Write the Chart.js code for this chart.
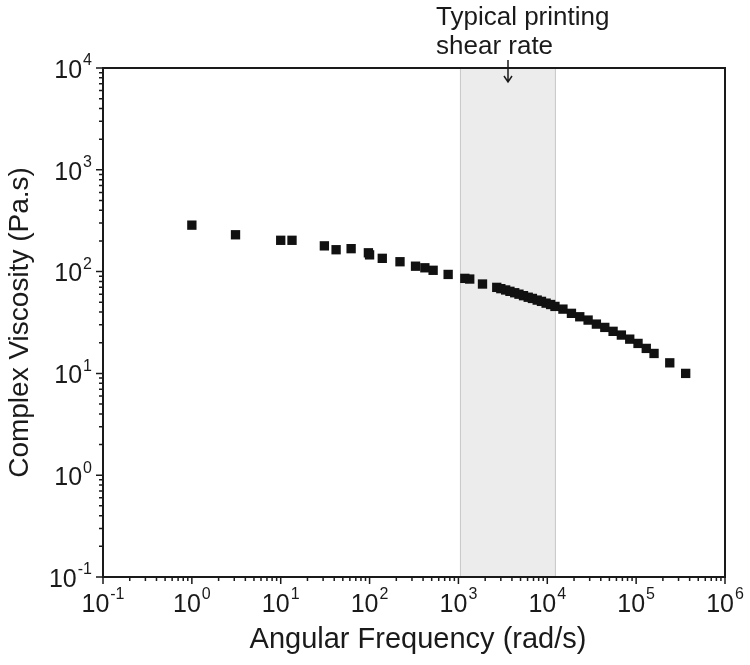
<!DOCTYPE html>
<html>
<head>
<meta charset="utf-8">
<script src="https://cdn.jsdelivr.net/npm/chart.js@4.4.0/dist/chart.umd.min.js"></script>
<style>
  html, body { margin: 0; padding: 0; background: #fff; }
  #wrap { width: 750px; height: 665px; }
</style>
</head>
<body>
<div id="wrap"><canvas id="viscChart"></canvas></div>
<script>
// angular frequency (rad/s) and complex viscosity (Pa.s)
var freq = [
  1.0, 3.1, 10, 13.4, 31, 42, 62, 97, 100, 139, 220, 329, 419, 519, 766,
  1180, 1340, 1866,
  2700, 3000, 3400, 3800, 4300, 4800, 5400, 6100, 6800, 7700, 8600, 9700, 10900, 12200,
  15000, 18700, 23200, 28800, 35700, 44400, 55000, 68200, 84700, 105000, 130000, 159000,
  239000, 361000
];
var viscosity = [
  286, 230, 203, 203, 179, 164, 168, 153, 146, 135, 125, 113, 109, 103, 93.8,
  85.8, 84.5, 75.5,
  70, 68, 66, 64, 62, 60, 58, 56, 54.5, 52.5, 51, 49, 47.5, 45.5,
  42.8, 38.9, 36.0, 33.4, 30.5, 28.3, 25.9, 23.8, 21.7, 19.7, 17.6, 15.7,
  12.7, 10.0
];
var xDecades = [-1, 0, 1, 2, 3, 4, 5, 6];
var yDecades = [-1, 0, 1, 2, 3, 4];
var shadeRange = [1040, 12500];
var noteLines = ["Typical printing", "shear rate"];

var points = freq.map(function(f, i) { return { x: f, y: viscosity[i] }; });

var FONT = "'Liberation Sans', Arial, sans-serif";

function drawPow(ctx, exp, x, y, align) {
  // "10" with a raised exponent
  ctx.font = "25px " + FONT;
  var wb = ctx.measureText("10").width;
  ctx.font = "16px " + FONT;
  var we = ctx.measureText(exp).width;
  var total = wb + we + 1;
  var left = align === "right" ? x - total : x - total / 2;
  ctx.textAlign = "left";
  ctx.textBaseline = "middle";
  ctx.font = "25px " + FONT;
  ctx.fillText("10", left, y);
  ctx.font = "16px " + FONT;
  ctx.fillText(exp, left + wb + 1, y - 10);
}

var figurePlugin = {
  id: "figure",
  beforeDatasetsDraw: function(chart) {
    var ctx = chart.ctx, a = chart.chartArea, xs = chart.scales.x;
    var x0 = xs.getPixelForValue(shadeRange[0]);
    var x1 = xs.getPixelForValue(shadeRange[1]);
    ctx.save();
    ctx.fillStyle = "#ececec";
    ctx.fillRect(x0, a.top, x1 - x0, a.bottom - a.top);
    ctx.strokeStyle = "#c8c8c8";
    ctx.lineWidth = 1;
    ctx.beginPath();
    ctx.moveTo(x0 + 0.5, a.top); ctx.lineTo(x0 + 0.5, a.bottom);
    ctx.moveTo(x1 - 0.5, a.top); ctx.lineTo(x1 - 0.5, a.bottom);
    ctx.stroke();
    ctx.restore();
  },
  afterDraw: function(chart) {
    var ctx = chart.ctx, a = chart.chartArea;
    var xs = chart.scales.x, ys = chart.scales.y;
    ctx.save();
    ctx.strokeStyle = "#1a1a1a";
    ctx.fillStyle = "#1a1a1a";
    ctx.lineWidth = 2;
    ctx.strokeRect(a.left, a.top, a.right - a.left, a.bottom - a.top);

    // tick marks
    ctx.lineWidth = 1.5;
    ctx.beginPath();
    xDecades.forEach(function(d, i) {
      var px = xs.getPixelForValue(Math.pow(10, d));
      ctx.moveTo(px, a.bottom); ctx.lineTo(px, a.bottom + 7);
      if (i < xDecades.length - 1) {
        for (var k = 2; k <= 9; k++) {
          var mx = xs.getPixelForValue(k * Math.pow(10, d));
          ctx.moveTo(mx, a.bottom); ctx.lineTo(mx, a.bottom + 4);
        }
      }
    });
    yDecades.forEach(function(d, i) {
      var py = ys.getPixelForValue(Math.pow(10, d));
      ctx.moveTo(a.left, py); ctx.lineTo(a.left - 7, py);
      if (i < yDecades.length - 1) {
        for (var k = 2; k <= 9; k++) {
          var my = ys.getPixelForValue(k * Math.pow(10, d));
          ctx.moveTo(a.left, my); ctx.lineTo(a.left - 4, my);
        }
      }
    });
    ctx.stroke();

    // tick labels
    xDecades.forEach(function(d) {
      drawPow(ctx, String(d), xs.getPixelForValue(Math.pow(10, d)), a.bottom + 28, "center");
    });
    yDecades.forEach(function(d) {
      drawPow(ctx, String(d), a.left - 11, ys.getPixelForValue(Math.pow(10, d)) + 3, "right");
    });

    // axis titles
    ctx.font = "29px " + FONT;
    ctx.textAlign = "center";
    ctx.textBaseline = "middle";
    ctx.fillText("Angular Frequency (rad/s)", (a.left + a.right) / 2 + 4, 640);
    ctx.save();
    ctx.translate(20, (a.top + a.bottom) / 2);
    ctx.rotate(-Math.PI / 2);
    ctx.font = "28px " + FONT;
    ctx.fillText("Complex Viscosity (Pa.s)", 0, 0);
    ctx.restore();

    // annotation
    ctx.font = "26px " + FONT;
    ctx.textAlign = "left";
    ctx.fillText(noteLines[0], 436, 18);
    ctx.fillText(noteLines[1], 436, 47);
    var ax = 508;
    ctx.lineWidth = 1.5;
    ctx.beginPath();
    ctx.moveTo(ax, 60); ctx.lineTo(ax, 82);
    ctx.moveTo(ax - 4, 76); ctx.lineTo(ax, 82); ctx.lineTo(ax + 4, 76);
    ctx.stroke();
    ctx.restore();
  }
};

new Chart(document.getElementById("viscChart").getContext("2d"), {
  type: "scatter",
  data: {
    datasets: [{
      label: "Complex viscosity",
      data: points,
      pointStyle: "rect",
      pointRadius: 6.6,
      pointHoverRadius: 6.6,
      backgroundColor: "#111",
      borderColor: "#111",
      borderWidth: 0
    }]
  },
  options: {
    responsive: true,
    maintainAspectRatio: false,
    animation: false,
    layout: { padding: { top: 68, right: 25, left: 0, bottom: 0 } },
    plugins: { legend: { display: false }, tooltip: { enabled: false } },
    scales: {
      x: {
        type: "logarithmic",
        min: 0.1,
        max: 1e6,
        grid: { display: false },
        border: { display: false },
        ticks: { display: false },
        afterFit: function(s) { s.height = 88; }
      },
      y: {
        type: "logarithmic",
        min: 0.1,
        max: 1e4,
        grid: { display: false },
        border: { display: false },
        ticks: { display: false },
        afterFit: function(s) { s.width = 103; }
      }
    }
  },
  plugins: [figurePlugin]
});
</script>
</body>
</html>
